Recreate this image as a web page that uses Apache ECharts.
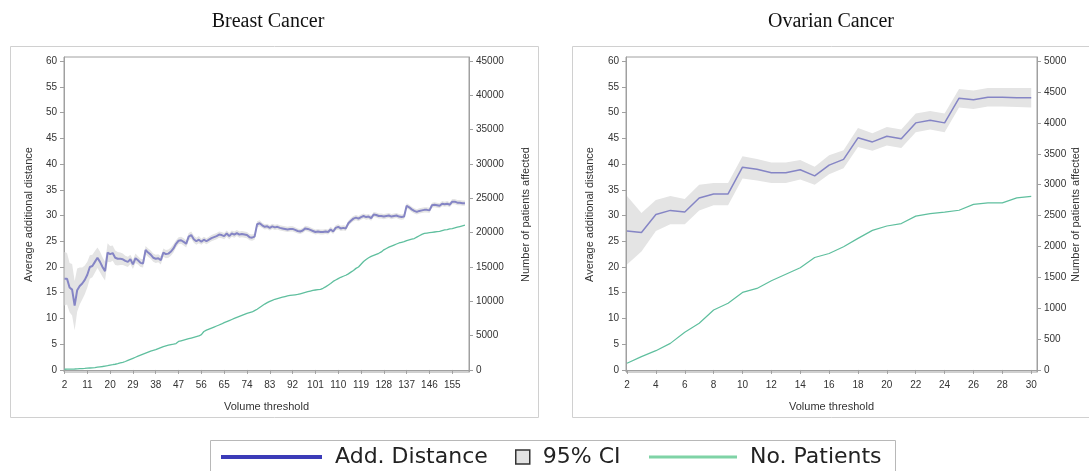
<!DOCTYPE html>
<html>
<head>
<meta charset="utf-8">
<script src="https://cdn.jsdelivr.net/npm/echarts@6/dist/echarts.min.js"></script>
<style>
html,body{margin:0;padding:0;background:#fff;}
#chart{width:1089px;height:471px;}
</style>
</head>
<body>
<div id="chart"></div>
<script>
// ---------------- DATA ----------------
// Breast cancer: volume thresholds 2..160
const breastStart = 2;
const breastMean = [
17.7,17.7,16.0,15.6,12.5,15.5,16.3,16.8,17.5,
18.5,20.0,20.2,21.0,21.8,21.0,20.0,19.2,22.8,
22.5,22.7,21.8,21.6,21.6,21.5,21.2,21.0,21.5,
20.5,21.7,21.3,20.8,20.7,23.3,22.8,22.4,21.8,
21.6,21.7,21.3,22.8,22.5,22.6,23.0,23.6,24.5,
25.1,25.2,24.9,24.5,25.9,26.2,25.4,25.0,25.3,
24.9,25.3,25.0,25.3,25.6,25.8,26.0,26.3,26.2,
26.0,26.5,26.0,26.5,26.3,26.6,26.3,26.4,26.3,
26.2,25.8,25.7,25.9,28.3,28.5,28.1,27.8,27.9,
27.6,27.9,27.7,27.8,27.6,27.5,27.4,27.3,27.4,
27.4,27.2,27.0,26.9,27.1,27.5,27.4,27.2,27.0,
26.8,26.9,26.8,26.8,26.9,26.8,27.3,26.9,27.6,
27.8,27.5,27.6,27.5,28.5,29.0,29.4,29.6,29.4,
29.7,29.9,29.7,29.8,29.5,30.2,30.1,29.9,29.9,
29.8,29.9,30.0,29.8,29.9,30.0,29.8,29.7,29.8,
31.9,31.6,31.2,30.9,30.7,30.9,31.0,31.1,31.1,
31.0,32.0,32.1,32.0,31.9,32.3,32.2,32.3,32.1,
32.7,32.7,32.5,32.5,32.4,32.4
];
const breastCIHalf = [
5.2,5.0,4.8,5.0,4.8,4.2,3.6,3.1,2.8,
2.5,2.3,2.2,2.1,2.0,2.0,1.9,1.8,1.8,
1.6,1.5,1.4,1.3,1.2,1.1,1.0,1.0,0.9,
0.9,0.9,0.8,0.8,0.8,0.8,0.8,0.8,0.8,
0.8,0.8,0.8,0.8,0.8,0.8,0.8,0.8,0.7,
0.7,0.7,0.7,0.7,0.7,0.7,0.7,0.7,0.7,
0.6,0.6,0.6,0.6,0.6,0.6,0.6,0.6,0.6,
0.6,0.6,0.6,0.6,0.6,0.6,0.6,0.6,0.6,
0.6,0.6,0.6,0.6,0.6,0.6,0.5,0.5,0.5,
0.5,0.5,0.5,0.5,0.5,0.5,0.5,0.5,0.5,
0.5,0.5,0.5,0.5,0.5,0.5,0.5,0.5,0.5,
0.5,0.5,0.5,0.5,0.5,0.5,0.5,0.5,0.5,
0.5,0.5,0.5,0.5,0.5,0.5,0.5,0.5,0.5,
0.5,0.5,0.5,0.5,0.5,0.5,0.5,0.5,0.5,
0.5,0.5,0.5,0.5,0.5,0.5,0.5,0.5,0.5,
0.5,0.5,0.5,0.5,0.5,0.5,0.5,0.5,0.5,
0.5,0.5,0.5,0.5,0.5,0.5,0.5,0.5,0.5,
0.5,0.5,0.5,0.5,0.5,0.5
];
const breastPatients = [
100,110,120,130,140,160,180,200,220,
250,280,310,350,400,450,500,560,620,
700,760,830,920,1020,1120,1230,1400,1550,
1700,1850,2000,2150,2300,2450,2600,2750,2850,
2950,3100,3250,3400,3500,3600,3700,3750,3850,
4150,4250,4350,4450,4550,4650,4750,4850,4950,
5150,5600,5800,5950,6100,6250,6400,6550,6700,
6900,7050,7200,7350,7500,7650,7800,7950,8100,
8250,8350,8450,8650,8850,9100,9350,9600,9800,
10000,10150,10300,10400,10500,10600,10700,10800,10850,
10900,10950,11000,11100,11200,11300,11400,11500,11600,
11650,11700,11750,11900,12100,12350,12600,12900,13100,
13300,13500,13650,13800,14000,14250,14500,14800,15000,
15400,15800,16100,16350,16550,16700,16850,17000,17200,
17500,17700,17900,18050,18200,18350,18500,18600,18700,
18850,18950,19050,19150,19350,19550,19750,19900,19950,
20000,20050,20100,20150,20200,20300,20400,20450,20550,
20600,20700,20800,20900,21000,21100
];
const breastXTicks = [2,11,20,29,38,47,56,65,74,83,92,101,110,119,128,137,146,155];
const breastYTicks = [0,5,10,15,20,25,30,35,40,45,50,55,60];
const breastY2Ticks = [0,5000,10000,15000,20000,25000,30000,35000,40000,45000];

// Ovarian cancer: volume thresholds 2..30
const ovStart = 2;
const ovMean = [27.0,26.7,30.2,31.0,30.7,33.4,34.2,34.2,39.4,39.0,38.3,38.3,38.9,37.7,39.8,40.9,45.1,44.3,45.4,44.9,48.0,48.5,48.0,52.8,52.5,53.0,53.0,52.9,52.9];
const ovLow  = [20.5,23.0,27.0,28.3,28.3,31.0,32.0,32.0,37.2,36.8,36.3,36.3,37.0,36.0,38.0,39.2,43.3,42.6,43.6,43.1,46.2,46.7,46.2,51.0,50.7,51.2,51.2,51.1,51.0];
const ovHigh = [33.8,30.5,33.0,33.8,33.2,36.0,36.3,36.3,41.5,41.0,40.3,40.3,40.8,39.5,41.7,42.7,47.0,46.0,47.2,46.7,49.8,50.3,49.8,54.6,54.3,54.8,54.8,54.8,54.8];
const ovPatients = [108,215,312,430,610,755,970,1080,1255,1320,1445,1550,1655,1820,1885,1995,2130,2260,2330,2370,2490,2530,2555,2585,2680,2705,2705,2785,2810];
const ovXTicks = [2,4,6,8,10,12,14,16,18,20,22,24,26,28,30];
const ovYTicks = [0,5,10,15,20,25,30,35,40,45,50,55,60];
const ovY2Ticks = [0,500,1000,1500,2000,2500,3000,3500,4000,4500,5000];

// ---------------- BUILD ----------------
const bx = breastMean.map((_, i) => breastStart + i);
const ox = ovMean.map((_, i) => ovStart + i);
const bLowArr = breastMean.map((v, i) => v - breastCIHalf[i]);
const bHighArr = breastMean.map((v, i) => v + breastCIHalf[i]);

const AX = '#a0a0a0';
const TXT = '#333';
const SANS = 'Liberation Sans, Arial, sans-serif';
const MEAN_C = '#8585c5';
const CI_C = '#e4e4e4';
const PAT_C = '#5fbf9e';

function bandSeries(xs, lo, hi, xi, yi) {
  return {
    name: '95% CI', type: 'custom', xAxisIndex: xi, yAxisIndex: yi,
    data: [[xs[0], lo[0]]], silent: true, z: 1,
    itemStyle: { color: CI_C },
    renderItem: function (params, api) {
      const pts = [];
      for (let i = 0; i < xs.length; i++) pts.push(api.coord([xs[i], lo[i]]));
      for (let i = xs.length - 1; i >= 0; i--) pts.push(api.coord([xs[i], hi[i]]));
      return { type: 'polygon', shape: { points: pts }, style: { fill: CI_C } };
    }
  };
}

function xAxis(grid, min, max, ticks) {
  return {
    type: 'value', gridIndex: grid, min: min, max: max,
    axisLine: { show: true, lineStyle: { color: AX } },
    axisTick: { show: true, length: 4, customValues: ticks, lineStyle: { color: AX } },
    axisLabel: { customValues: ticks, fontSize: 10, color: TXT, fontFamily: SANS, margin: 8, formatter: v => String(v) },
    splitLine: { show: false },
    name: 'Volume threshold', nameLocation: 'middle', nameGap: 29,
    nameTextStyle: { fontSize: 11, color: TXT, fontFamily: SANS }
  };
}
function yAxis(grid, pos, min, max, ticks, name, gap) {
  return {
    type: 'value', gridIndex: grid, position: pos, min: min, max: max,
    axisLine: { show: true, lineStyle: { color: AX } },
    axisTick: { show: true, length: 4, customValues: ticks, lineStyle: { color: AX } },
    axisLabel: { customValues: ticks, fontSize: 10, color: TXT, fontFamily: SANS, margin: 7, formatter: v => String(v) },
    splitLine: { show: false },
    name: name, nameLocation: 'middle', nameRotate: 90, nameGap: gap,
    nameTextStyle: { fontSize: 11, color: TXT, fontFamily: SANS }
  };
}

const chart = echarts.init(document.getElementById('chart'), null, { renderer: 'canvas' });
const legendText = { fontFamily: 'DejaVu Sans', fontSize: 22, color: '#222', padding: [0, 0, 0, 8] };

chart.setOption({
  animation: false,
  backgroundColor: '#fff',
  grid: [
    { left: 64, top: 57, width: 405, height: 315, show: true, borderColor: AX, borderWidth: 1, backgroundColor: 'transparent' },
    { left: 626, top: 57, width: 411, height: 315, show: true, borderColor: AX, borderWidth: 1, backgroundColor: 'transparent' }
  ],
  xAxis: [
    xAxis(0, 1.8, 161.6, breastXTicks),
    xAxis(1, 1.93, 30.4, ovXTicks)
  ],
  yAxis: [
    yAxis(0, 'left', -0.4, 60.8, breastYTicks, 'Average additional distance', 30),
    yAxis(0, 'right', -300, 45600, breastY2Ticks, 'Number of patients affected', 51),
    yAxis(1, 'left', -0.4, 60.8, ovYTicks, 'Average additional distance', 31),
    yAxis(1, 'right', -100 / 3, 15200 / 3, ovY2Ticks, 'Number of patients affected', 33)
  ],
  legend: [
    { data: [{ name: 'Add. Distance', icon: 'rect', itemStyle: { color: '#3b3bb8' } }],
      left: 221, top: 446, padding: 0, itemWidth: 101, itemHeight: 4, selectedMode: false, textStyle: legendText },
    { data: [{ name: '95% CI', icon: 'rect', itemStyle: { color: '#e2e2e2', borderColor: '#333', borderWidth: 1.5 } }],
      left: 515, top: 446, padding: 0, itemWidth: 14, itemHeight: 14, selectedMode: false, textStyle: legendText },
    { data: [{ name: 'No. Patients', icon: 'rect', itemStyle: { color: '#7fd3a6' } }],
      left: 649, top: 446, padding: 0, itemWidth: 88, itemHeight: 3, selectedMode: false, textStyle: legendText }
  ],
  graphic: [
    { type: 'rect', silent: true, z: -10, shape: { x: 10.5, y: 46.5, width: 528, height: 371 }, style: { fill: 'none', stroke: '#d0d0d0', lineWidth: 1 } },
    { type: 'rect', silent: true, z: -10, shape: { x: 572.5, y: 46.5, width: 540, height: 371 }, style: { fill: 'none', stroke: '#d0d0d0', lineWidth: 1 } },
    { type: 'rect', silent: true, z: -10, shape: { x: 210.5, y: 440.5, width: 685, height: 40 }, style: { fill: 'none', stroke: '#b8b8b8', lineWidth: 1 } },
    { type: 'text', silent: true, style: { x: 268, y: 22, text: 'Breast Cancer', textAlign: 'center', textVerticalAlign: 'middle', font: '20px "Liberation Serif", serif', fill: '#111' } },
    { type: 'text', silent: true, style: { x: 831, y: 22, text: 'Ovarian Cancer', textAlign: 'center', textVerticalAlign: 'middle', font: '20px "Liberation Serif", serif', fill: '#111' } }
  ],
  series: [
    bandSeries(bx, bLowArr, bHighArr, 0, 0),
    { name: 'Add. Distance', type: 'line', xAxisIndex: 0, yAxisIndex: 0, data: bx.map((x, i) => [x, breastMean[i]]), symbol: 'none', lineStyle: { color: MEAN_C, width: 2 }, itemStyle: { color: MEAN_C }, z: 3 },
    { name: 'No. Patients', type: 'line', xAxisIndex: 0, yAxisIndex: 1, data: bx.map((x, i) => [x, breastPatients[i]]), symbol: 'none', lineStyle: { color: PAT_C, width: 1.3 }, itemStyle: { color: PAT_C }, z: 3 },

    bandSeries(ox, ovLow, ovHigh, 1, 2),
    { name: 'Add. Distance', type: 'line', xAxisIndex: 1, yAxisIndex: 2, data: ox.map((x, i) => [x, ovMean[i]]), symbol: 'none', lineStyle: { color: MEAN_C, width: 1.5 }, itemStyle: { color: MEAN_C }, z: 3 },
    { name: 'No. Patients', type: 'line', xAxisIndex: 1, yAxisIndex: 3, data: ox.map((x, i) => [x, ovPatients[i]]), symbol: 'none', lineStyle: { color: PAT_C, width: 1.2 }, itemStyle: { color: PAT_C }, z: 3 }
  ]
});
</script>
</body>
</html>
